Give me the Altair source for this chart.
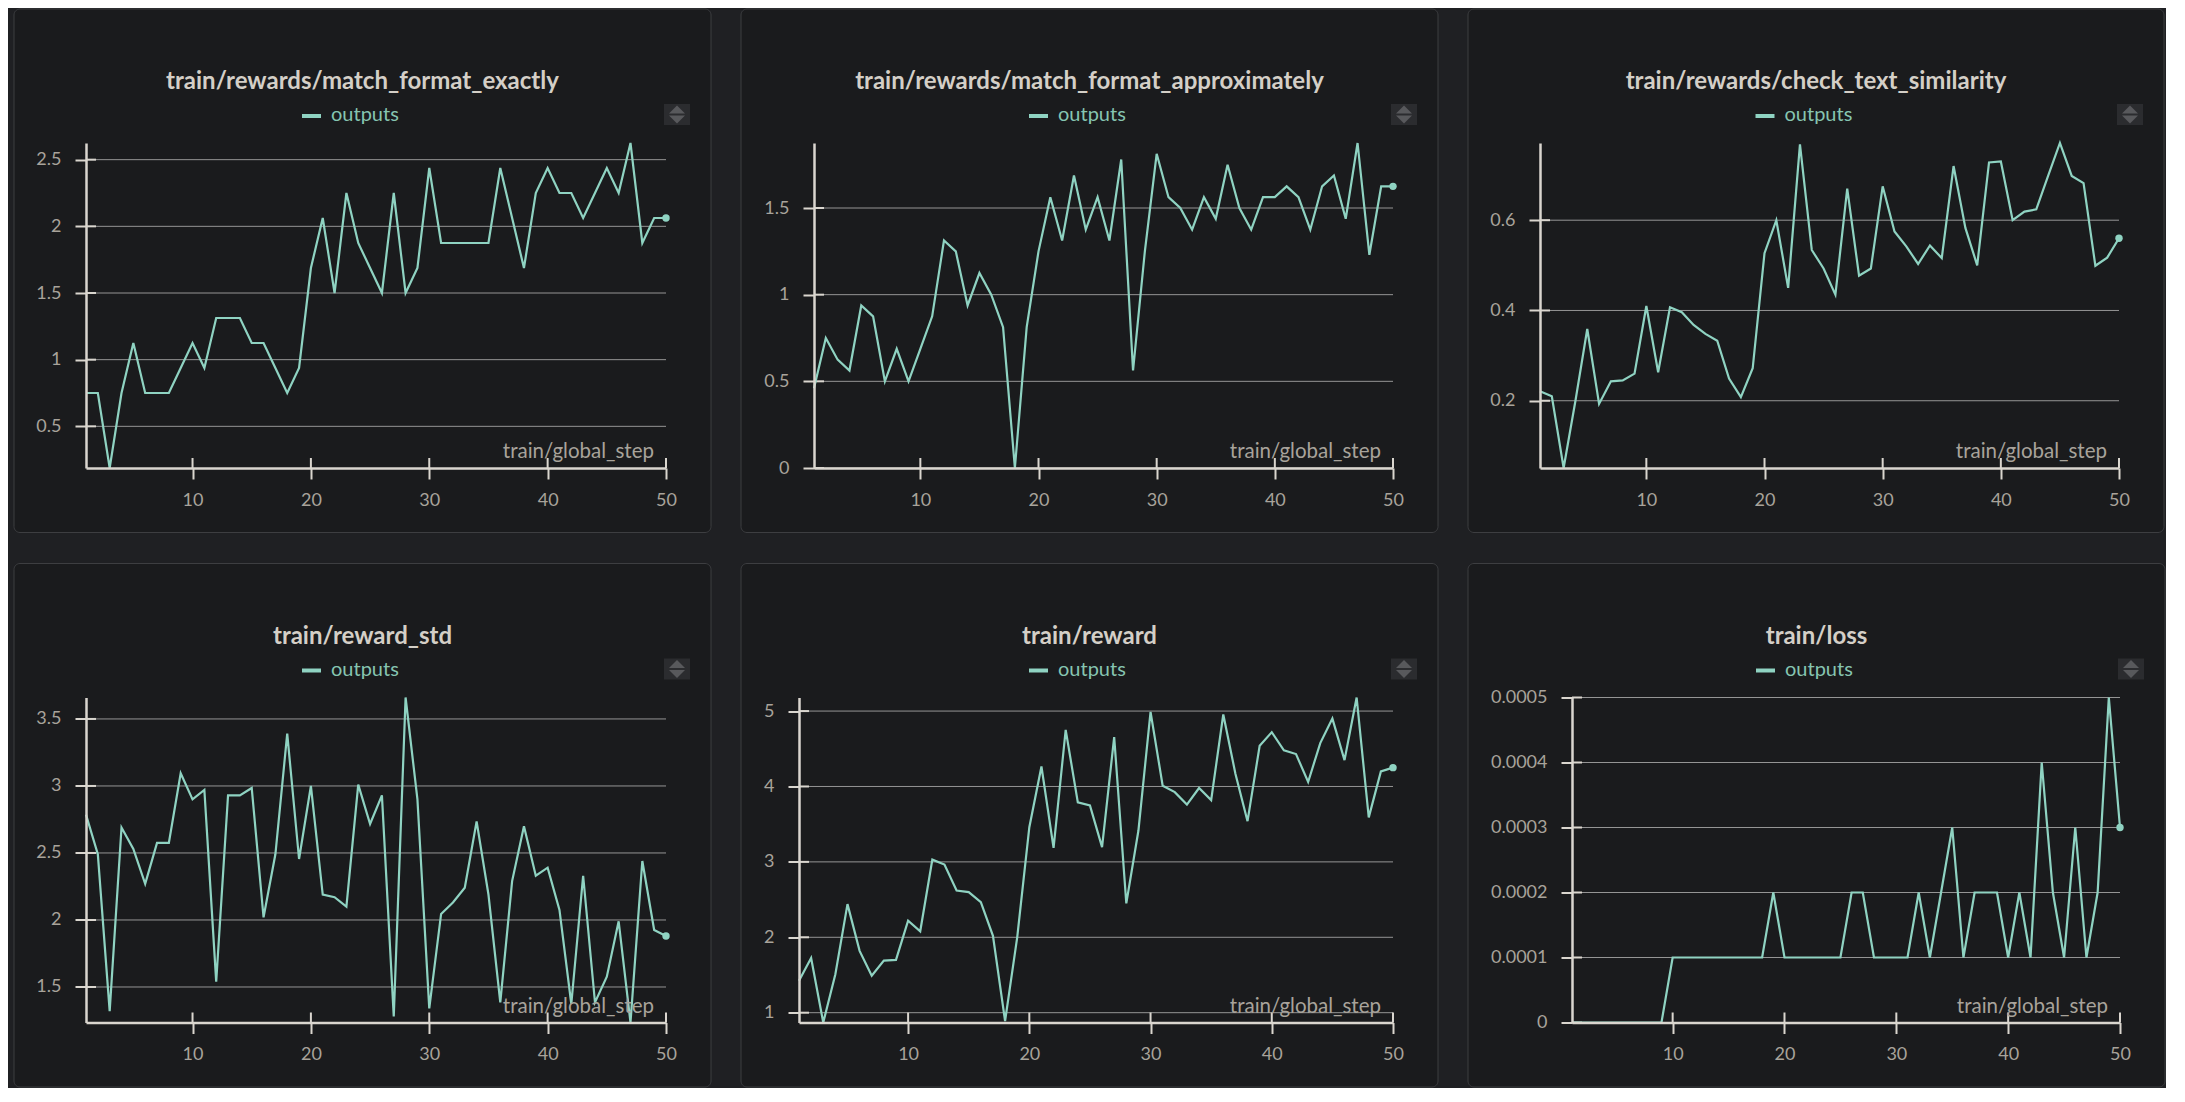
import altair as alt
import pandas as pd

# ---------------- data ----------------
steps = list(range(1, 51))
x_ticks = [10, 20, 30, 40, 50]

titles = [
    "train/rewards/match_format_exactly",
    "train/rewards/match_format_approximately",
    "train/rewards/check_text_similarity",
    "train/reward_std",
    "train/reward",
    "train/loss",
]

match_format_exactly = [
    0.75, 0.75, 0.1875, 0.75, 1.125, 0.75, 0.75, 0.75, 0.9375, 1.125,
    0.9375, 1.3125, 1.3125, 1.3125, 1.125, 1.125, 0.9375, 0.75, 0.9375, 1.6875,
    2.0625, 1.5, 2.25, 1.875, 1.6875, 1.5, 2.25, 1.5, 1.6875, 2.4375,
    1.875, 1.875, 1.875, 1.875, 1.875, 2.4375, 2.0625, 1.6875, 2.25, 2.4375,
    2.25, 2.25, 2.0625, 2.25, 2.4375, 2.25, 2.625, 1.875, 2.0625, 2.0625,
]
match_format_approximately = [
    0.46, 0.75, 0.625, 0.5625, 0.9375, 0.875, 0.5, 0.6875, 0.5, 0.6875,
    0.875, 1.3125, 1.25, 0.9375, 1.125, 1.0, 0.8125, 0.0, 0.8125, 1.25,
    1.5625, 1.3125, 1.6875, 1.375, 1.5625, 1.3125, 1.78, 0.5625, 1.25, 1.8125,
    1.5625, 1.5, 1.375, 1.5625, 1.4375, 1.75, 1.5, 1.375, 1.5625, 1.5625,
    1.625, 1.5625, 1.375, 1.625, 1.6875, 1.4375, 1.875, 1.23, 1.625, 1.625,
]
check_text_similarity = [
    0.221, 0.21, 0.051, 0.2, 0.359, 0.193, 0.243, 0.245, 0.26, 0.41,
    0.263, 0.407, 0.396, 0.368, 0.348, 0.333, 0.249, 0.208, 0.272, 0.527,
    0.6, 0.45, 0.768, 0.534, 0.493, 0.435, 0.67, 0.477, 0.493, 0.675,
    0.575, 0.542, 0.503, 0.544, 0.516, 0.72, 0.583, 0.5, 0.728, 0.73,
    0.6, 0.619, 0.624, 0.698, 0.771, 0.698, 0.682, 0.499, 0.517, 0.56,
]
reward_std = [
    2.786, 2.49, 1.32, 2.69, 2.53, 2.27, 2.575, 2.575, 3.095, 2.9,
    2.97, 1.54, 2.93, 2.93, 2.985, 2.02, 2.49, 3.39, 2.455, 3.0,
    2.19, 2.17, 2.1, 3.01, 2.716, 2.93, 1.28, 3.66, 2.9, 1.34,
    2.045, 2.13, 2.24, 2.736, 2.19, 1.385, 2.29, 2.7, 2.33, 2.39,
    2.075, 1.373, 2.33, 1.385, 1.577, 1.99, 1.235, 2.44, 1.925, 1.88,
]
reward = [
    1.425, 1.726, 0.87, 1.51, 2.44, 1.82, 1.49, 1.69, 1.70, 2.22,
    2.08, 3.03, 2.965, 2.62, 2.60, 2.465, 2.02, 0.89, 2.0, 3.46,
    4.265, 3.186, 4.75, 3.79, 3.75, 3.195, 4.655, 2.45, 3.416, 4.99,
    4.01, 3.925, 3.76, 3.98, 3.82, 4.955, 4.17, 3.54, 4.54, 4.72,
    4.48, 4.43, 4.06, 4.575, 4.90, 4.35, 5.18, 3.59, 4.2, 4.25,
]
loss = [
    0, 0, 0, 0, 0, 0, 0, 0, 0, 0.0001,
    0.0001, 0.0001, 0.0001, 0.0001, 0.0001, 0.0001, 0.0001, 0.0001, 0.0002, 0.0001,
    0.0001, 0.0001, 0.0001, 0.0001, 0.0001, 0.0002, 0.0002, 0.0001, 0.0001, 0.0001,
    0.0001, 0.0002, 0.0001, 0.0002, 0.0003, 0.0001, 0.0002, 0.0002, 0.0002, 0.0001,
    0.0002, 0.0001, 0.0004, 0.0002, 0.0001, 0.0003, 0.0001, 0.0002, 0.0005, 0.0003,
]
series = [match_format_exactly, match_format_approximately, check_text_similarity,
          reward_std, reward, loss]

y_domains = [[0.1875, 2.625], [0, 1.875], [0.051, 0.771],
             [1.235, 3.66], [0.87, 5.18], [0, 0.0005]]
y_ticks = [[0.5, 1, 1.5, 2, 2.5], [0, 0.5, 1, 1.5], [0.2, 0.4, 0.6],
           [1.5, 2, 2.5, 3, 3.5], [1, 2, 3, 4, 5],
           [0, 0.0001, 0.0002, 0.0003, 0.0004, 0.0005]]

legend_label = "outputs"
x_title = "train/global_step"

# ---------------- layout / style ----------------
plot_left = [72, 73, 72, 72, 58, 104]
plot_w = [580, 579, 579, 580, 594, 548]
PLOT_H = 325
TOP = 134
BOTTOM = 64.5
RIGHT = 45

PAGE = "#1f2023"
PANEL = "#1a1b1d"
BORDER = "#3d3e41"
AX = "#dad6cf"
GRID = "#959595"
LAB = "#a8a39b"
TITLE = "#d4cfc7"
LINE = "#8fd3c2"
LEGTXT = "#86c5b1"
ICONBOX = "#2b2c2f"
ICONTRI = "#58595c"
FONT = "Lato"

one = pd.DataFrame({"t": [0]})


def make_panel(i):
    L, W, H = plot_left[i], plot_w[i], PLOT_H
    R = W + RIGHT
    cx = (-L + R) / 2.0
    df = pd.DataFrame({"step": steps, "value": series[i]})
    last = df.tail(1)

    xscale = alt.Scale(domain=[1, 50], nice=False, zero=False)
    yscale = alt.Scale(domain=y_domains[i], nice=False, zero=False)
    xax = alt.Axis(values=x_ticks, title=None, grid=False, zindex=1,
                   labelPadding=12, labelFlush=False)
    yax = alt.Axis(values=y_ticks[i], format="~g", title=None, grid=False,
                   zindex=1, labelPadding=14)
    X = alt.X("step:Q", scale=xscale, axis=xax)
    Y = alt.Y("value:Q", scale=yscale, axis=yax)

    bg = alt.Chart(one).mark_rect(fill=PANEL, stroke=BORDER, strokeWidth=1,
                                  cornerRadius=6).encode(
        x=alt.value(-L), x2=alt.value(R), y=alt.value(-TOP), y2=alt.value(H + BOTTOM))

    grid = alt.Chart(pd.DataFrame({"value": y_ticks[i]})).mark_rule(
        color=GRID, strokeWidth=1).encode(y=Y, x=alt.value(0), x2=alt.value(W))

    ytick_in = alt.Chart(pd.DataFrame({"value": y_ticks[i]})).mark_rule(
        color=AX, strokeWidth=2).encode(y=Y, x=alt.value(0), x2=alt.value(10))

    xtick_in = alt.Chart(pd.DataFrame({"step": x_ticks})).mark_rule(
        color=AX, strokeWidth=2).encode(x=X, y=alt.value(H - 10), y2=alt.value(H))

    line = alt.Chart(df).mark_line(color=LINE, strokeWidth=2.2,
                                   strokeJoin="miter").encode(x=X, y=Y)
    dot = alt.Chart(last).mark_circle(color=LINE, size=55, opacity=1).encode(x=X, y=Y)

    title = alt.Chart(one).mark_text(
        text=titles[i], font=FONT, fontSize=24, fontWeight="bold", color=TITLE,
        align="center", baseline="alphabetic").encode(
        x=alt.value(cx), y=alt.value(-TOP + 80))

    leg_sym = alt.Chart(one).mark_rule(color=LINE, strokeWidth=4).encode(
        x=alt.value(cx - 60.5), x2=alt.value(cx - 41.5), y=alt.value(-27))
    leg_txt = alt.Chart(one).mark_text(
        text=legend_label, font=FONT, fontSize=20, color=LEGTXT,
        align="left", baseline="middle").encode(
        x=alt.value(cx - 31.5), y=alt.value(-28))

    xt = alt.Chart(one).mark_text(
        text=x_title, font=FONT, fontSize=20.5, color=LAB,
        align="right", baseline="alphabetic").encode(
        x=alt.value(W - 12), y=alt.value(H - 10))

    icon = alt.Chart(one).mark_rect(fill=ICONBOX).encode(
        x=alt.value(W - 2), x2=alt.value(W + 24), y=alt.value(-39), y2=alt.value(-18))
    tri_up = alt.Chart(one).mark_point(
        shape="M-1,0.5L0,-0.5L1,0.5Z", filled=True, size=256, color=ICONTRI,
        opacity=1).encode(x=alt.value(W + 11), y=alt.value(-33.5))
    tri_dn = alt.Chart(one).mark_point(
        shape="M-1,-0.5L0,0.5L1,-0.5Z", filled=True, size=256, color=ICONTRI,
        opacity=1).encode(x=alt.value(W + 11), y=alt.value(-23.5))

    return alt.layer(bg, grid, ytick_in, xtick_in, line, dot, title,
                     leg_sym, leg_txt, xt, icon, tri_up, tri_dn).properties(
        width=W, height=H)


panels = [make_panel(i) for i in range(6)]

chart = alt.vconcat(
    alt.hconcat(panels[0], panels[1], panels[2], spacing=28),
    alt.hconcat(panels[3], panels[4], panels[5], spacing=28),
    spacing=29.5,
).properties(
    padding={"left": 5, "top": 0, "right": 0, "bottom": 0},
    background=PAGE,
).configure_view(stroke=None).configure_axis(
    domainColor=AX, domainWidth=2.5, tickColor=AX, tickWidth=2, tickSize=11,
    labelColor=LAB, labelFont=FONT, labelFontSize=18,
)

chart.save("out.html", embed_options={"renderer": "svg", "actions": False})
